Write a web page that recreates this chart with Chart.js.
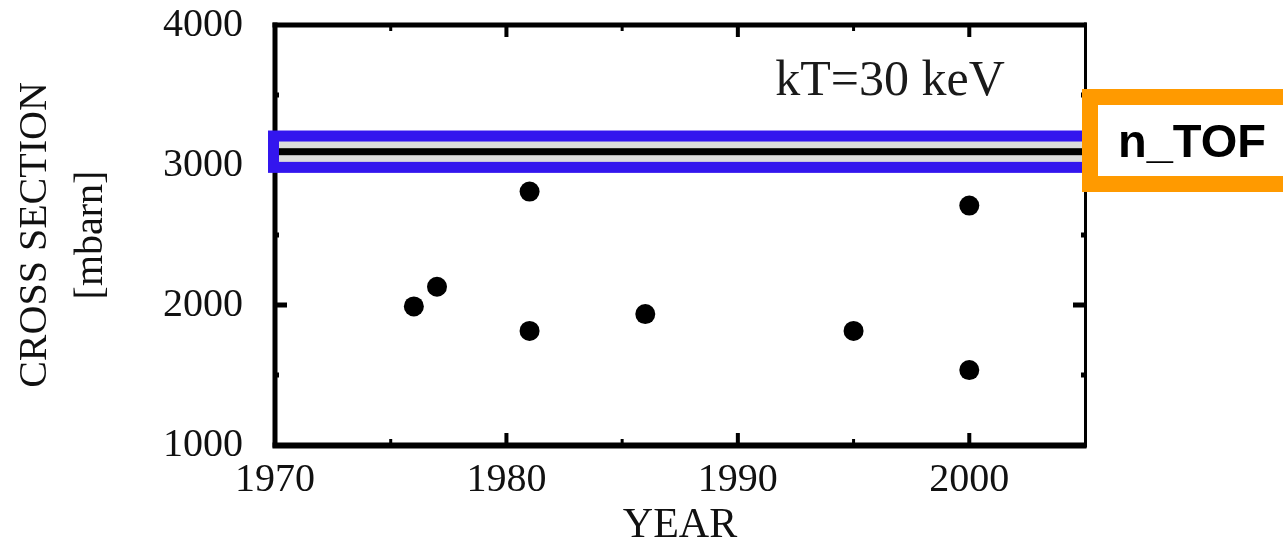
<!DOCTYPE html>
<html>
<head>
<meta charset="utf-8">
<script src="https://cdn.jsdelivr.net/npm/chart.js@4.4.1/dist/chart.umd.min.js"></script>
<style>
  html, body { margin: 0; padding: 0; background: #fff; }
  canvas { display: block; }
</style>
</head>
<body>
<canvas id="chart" width="1283" height="544"></canvas>
<script>
// Published 30 keV Maxwellian-averaged cross sections, by year
const years = [1976, 1977, 1981, 1981, 1986, 1995, 2000, 2000];
const crossSections = [1990, 2130, 2810, 1815, 1935, 1815, 2710, 1535];

// n_TOF result (mbarn): central value and uncertainty
const ntofValue = 3095;
const ntofUncertainty = 112;

// Axis ranges and labelled ticks
const xRange = [1970, 2005];
const yRange = [1000, 4000];
const xTickLabels = [1970, 1980, 1990, 2000];
const yTickLabels = [1000, 2000, 3000, 4000];

const xTitle = 'YEAR';
const yTitle = ['CROSS SECTION', '[mbarn]'];
const annotationText = 'kT=30 keV';
const bandLabel = 'n_TOF';

const SERIF = '"Liberation Serif", "Times New Roman", serif';
const SANS = '"Liberation Sans", Arial, sans-serif';

// Frame with inward ticks on all four sides
const framePlugin = {
  id: 'frame',
  beforeDatasetsDraw(chart) {
    const { ctx, chartArea: a, scales: { x, y } } = chart;
    ctx.save();
    ctx.fillStyle = '#000';
    // frame lines
    ctx.fillRect(a.left - 2.5, a.top - 2.5, a.right - a.left + 4, 5);       // top
    ctx.fillRect(a.left - 2.5, a.bottom - 2.5, a.right - a.left + 4, 6);    // bottom
    ctx.fillRect(a.left - 2.5, a.top - 2.5, 5, a.bottom - a.top + 5);       // left
    ctx.fillRect(a.right - 1, a.top - 2.5, 3, a.bottom - a.top + 5);        // right

    const MAJ_LEN = 12, MAJ_W = 4, MIN_LEN = 6, MIN_W = 3;
    x.ticks.forEach(t => {
      if (t.value <= x.min || t.value >= x.max) return;
      const px = x.getPixelForValue(t.value);
      const major = xTickLabels.includes(t.value);
      const len = major ? MAJ_LEN : MIN_LEN, w = major ? MAJ_W : MIN_W;
      ctx.fillRect(px - w / 2, a.bottom - len, w, len);
      ctx.fillRect(px - w / 2, a.top, w, len);
    });
    y.ticks.forEach(t => {
      if (t.value <= y.min || t.value >= y.max) return;
      const py = y.getPixelForValue(t.value);
      const major = yTickLabels.includes(t.value);
      const len = major ? MAJ_LEN : MIN_LEN - 2, w = 5;
      ctx.fillRect(a.left, py - w / 2, len, w);
      ctx.fillRect(a.right - len, py - w / 2, len, w);
    });
    ctx.restore();
  },
  afterDatasetsDraw(chart) {
    const { ctx, chartArea: a, scales: { x, y } } = chart;
    ctx.save();

    // n_TOF band: value +- uncertainty
    const yTop = y.getPixelForValue(ntofValue + ntofUncertainty);
    const yBot = y.getPixelForValue(ntofValue - ntofUncertainty);
    const yMid = y.getPixelForValue(ntofValue);
    const xL = x.getPixelForValue(x.min) - 1.5;
    const xR = x.getPixelForValue(x.max) + 40;
    ctx.fillStyle = '#dcdcdc';
    ctx.fillRect(xL, yTop, xR - xL, yBot - yTop);
    ctx.fillStyle = '#000';
    ctx.fillRect(xL, yMid - 3.5, xR - xL, 7);
    ctx.strokeStyle = '#3316ee';
    ctx.lineWidth = 11;
    ctx.strokeRect(xL, yTop, xR - xL, yBot - yTop);

    // label box for the band
    const bx = a.right + 5, by = a.top + 72, bw = 210, bh = 87;
    ctx.fillStyle = '#fff';
    ctx.fillRect(bx, by, bw, bh);
    ctx.strokeStyle = '#ff9a00';
    ctx.lineWidth = 16;
    ctx.strokeRect(bx, by, bw, bh);
    ctx.fillStyle = '#000';
    ctx.font = 'bold 47px ' + SANS;
    ctx.textAlign = 'left';
    ctx.textBaseline = 'alphabetic';
    ctx.fillText(bandLabel, a.right + 33, a.top + 132);

    // temperature annotation
    ctx.fillStyle = '#1a1a1a';
    ctx.font = '50px ' + SERIF;
    ctx.textAlign = 'center';
    ctx.fillText(annotationText, a.right - 195, a.top + 70);
    ctx.restore();
  }
};

function clearPadding(s) {
  s.paddingTop = 0;
  s.paddingBottom = 0;
  s.paddingLeft = 0;
  s.paddingRight = 0;
}

new Chart(document.getElementById('chart'), {
  type: 'scatter',
  data: {
    datasets: [{
      data: years.map((yr, i) => ({ x: yr, y: crossSections[i] })),
      pointRadius: 10,
      pointHoverRadius: 10,
      pointStyle: 'circle',
      backgroundColor: '#000',
      borderColor: '#000',
      borderWidth: 0
    }]
  },
  options: {
    responsive: false,
    animation: false,
    events: [],
    layout: { padding: { left: 0, top: 25, right: 198, bottom: 0 } },
    plugins: { legend: { display: false }, tooltip: { enabled: false } },
    scales: {
      x: {
        type: 'linear',
        min: xRange[0],
        max: xRange[1],
        grid: { display: false, drawTicks: false },
        border: { display: false },
        ticks: {
          stepSize: 5,
          autoSkip: false,
          maxRotation: 0,
          padding: 11,
          color: '#111',
          font: { family: SERIF, size: 40 },
          callback: v => xTickLabels.includes(v) ? String(v) : ''
        },
        title: {
          display: true,
          text: xTitle,
          color: '#111',
          font: { family: SERIF, size: 42, lineHeight: 0.8 },
          padding: { top: 0, bottom: 1 }
        },
        afterFit: s => { s.height = 99; clearPadding(s); }
      },
      y: {
        type: 'linear',
        min: yRange[0],
        max: yRange[1],
        grid: { display: false, drawTicks: false },
        border: { display: false },
        ticks: {
          stepSize: 500,
          autoSkip: false,
          padding: 32,
          color: '#111',
          font: { family: SERIF, size: 40 },
          callback: v => yTickLabels.includes(v) ? String(v) : ''
        },
        title: {
          display: true,
          text: yTitle,
          color: '#111',
          font: { family: SERIF, size: 40, lineHeight: 1.4 },
          padding: { top: 7, bottom: 0 }
        },
        afterFit: s => { s.width = 275; clearPadding(s); }
      }
    }
  },
  plugins: [framePlugin]
});
</script>
</body>
</html>
